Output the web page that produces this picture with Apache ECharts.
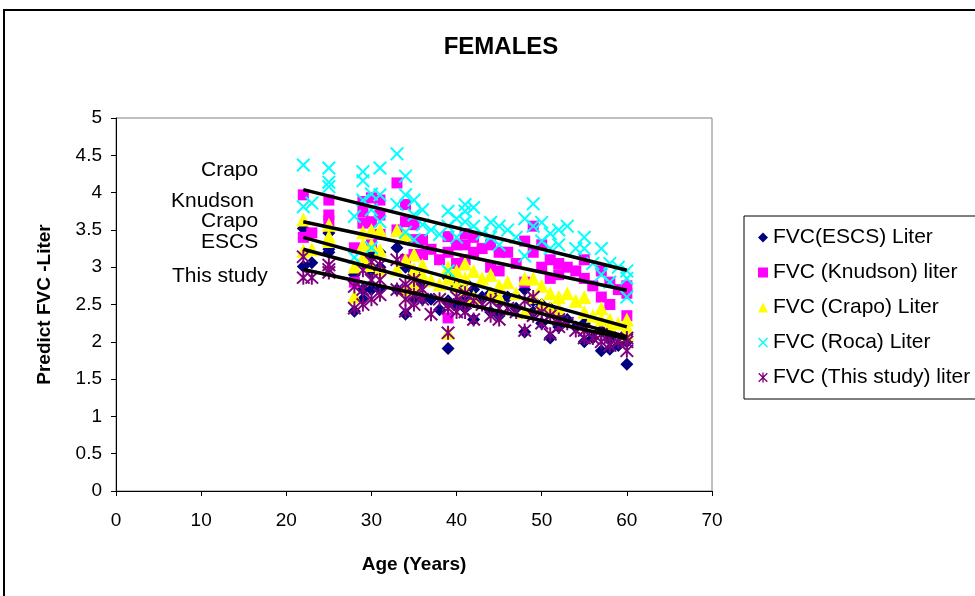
<!DOCTYPE html>
<html>
<head>
<meta charset="utf-8">
<script src="https://cdn.jsdelivr.net/npm/echarts@6/dist/echarts.min.js"></script>
<style>
html,body{margin:0;padding:0;background:#fff;}
#chart{width:975px;height:596px;}
</style>
</head>
<body>
<div id="chart"></div>
<script>
// ---- Data ----
const ages      = [22,22,23,25,25,25,28,28,29,29,29,30,30,30,31,31,31,33,33,34,34,34,35,35,35,36,36,37,38,39,39,39,40,40,41,41,41,42,42,43,44,44,45,45,46,47,48,48,49,49,50,50,51,51,52,52,53,54,55,55,56,57,57,58,58,59,60,60,60];
const escs      = [3.52,3.01,3.06,3.46,3.24,3.20,2.90,2.41,3.07,2.70,2.57,3.17,2.90,2.70,3.20,3.00,2.70,3.26,2.70,3.00,2.70,2.37,2.94,2.70,2.57,2.77,2.57,2.57,2.43,2.86,1.91,2.55,2.75,2.50,2.80,2.62,2.45,2.70,2.30,2.60,2.65,2.40,2.55,2.35,2.60,2.45,2.70,2.13,2.55,2.40,2.50,2.25,2.05,2.45,2.35,2.20,2.30,2.20,2.00,2.25,2.05,1.88,2.15,1.90,2.05,1.95,1.70,2.00,2.10];
const knudson   = [3.97,3.40,3.46,3.90,3.70,3.62,3.26,2.80,3.88,3.74,3.59,3.93,3.61,3.30,3.90,3.70,3.44,4.13,3.50,3.84,3.61,3.10,3.57,3.37,3.17,3.37,3.17,3.24,3.10,3.41,2.32,3.20,3.30,3.05,3.45,3.30,3.10,3.40,3.20,3.25,3.30,3.00,3.20,2.95,3.20,3.05,3.35,2.80,3.55,3.20,3.30,3.00,2.85,3.10,3.05,2.90,3.00,2.95,3.10,2.85,2.75,2.60,2.95,2.50,2.80,2.70,2.35,2.65,2.75];
const crapo     = [3.64,3.22,3.24,3.57,3.41,3.35,3.01,2.61,3.47,3.30,3.13,3.50,3.30,3.03,3.50,3.23,2.97,3.50,2.97,3.44,3.10,2.70,3.17,2.97,2.77,3.03,2.90,2.83,2.77,3.00,2.12,2.85,2.95,2.75,3.05,2.85,2.70,2.95,2.60,2.85,2.90,2.65,2.75,2.60,2.80,2.65,2.85,2.40,2.85,2.60,2.75,2.50,2.45,2.65,2.60,2.45,2.65,2.55,2.60,2.40,2.35,2.30,2.45,2.20,2.30,2.25,2.10,2.20,2.30];
const roca      = [4.37,3.81,3.86,4.33,4.14,4.08,3.68,3.13,4.28,4.16,3.90,3.98,3.77,3.26,4.33,3.97,3.61,4.52,3.84,4.22,3.97,3.47,3.90,3.70,3.37,3.77,3.57,3.50,3.44,3.75,2.95,3.55,3.65,3.40,3.84,3.75,3.61,3.80,3.55,3.45,3.60,3.40,3.55,3.30,3.50,3.40,3.65,3.15,3.85,3.55,3.60,3.35,3.25,3.45,3.50,3.30,3.55,3.25,3.40,3.25,3.05,3.25,2.90,3.05,2.80,3.00,2.95,2.60,2.85];
const thisStudy = [3.14,2.86,2.86,3.03,2.93,2.97,2.74,2.45,2.96,2.70,2.50,3.07,2.83,2.57,3.03,2.83,2.63,3.10,2.70,2.77,2.57,2.41,2.83,2.63,2.50,2.70,2.57,2.37,2.57,2.50,2.12,2.45,2.60,2.40,2.65,2.52,2.40,2.55,2.30,2.50,2.55,2.35,2.45,2.30,2.45,2.40,2.55,2.15,2.60,2.35,2.40,2.25,2.10,2.35,2.30,2.20,2.25,2.15,2.15,2.05,2.05,2.00,2.10,1.95,2.05,2.00,1.88,2.00,2.05];

// trend lines: [start age, end age] and values at each end
const trendAges  = [22, 60];
const trendRoca  = [4.04, 2.96];
const trendKnud  = [3.61, 2.69];
const trendCrapo = [3.40, 2.20];
const trendEscs  = [3.24, 2.07];
const trendThis  = [2.97, 2.04];

const seriesNames = ['FVC(ESCS) Liter','FVC (Knudson) liter','FVC (Crapo) Liter','FVC (Roca) Liter','FVC (This study) liter'];
const annotations = ['Crapo','Knudson','Crapo','ESCS','This study'];
const xTicks = [0,10,20,30,40,50,60,70];

// ---- Chart ----
const FONT = 'Liberation Sans, Arial, sans-serif';
const pair = (xs, ys) => xs.map((x, i) => [x, ys[i]]);
const X_PATH = 'path://M0,1 L1,0 L5,4 L9,0 L10,1 L6,5 L10,9 L9,10 L5,6 L1,10 L0,9 L4,5 Z';
const AST_PATH = 'path://M0,1.2 L1,0.2 L5,4.2 L9,0.2 L10,1.2 L6,5.2 L10,9.2 L9,10.2 L5,6.2 L1,10.2 L0,9.2 L4,5.2 Z M4.3,0 L5.7,0 L5.7,10.4 L4.3,10.4 Z';

const chart = echarts.init(document.getElementById('chart'), null, {renderer:'canvas'});

const scatter = (name, vals, symbol, size, color) => ({
  name, type:'scatter', data: pair(ages, vals), symbol, symbolSize: size,
  itemStyle:{color, opacity:1}, z:2, animation:false
});
const trend = (vals) => ({
  type:'line', data: pair(trendAges, vals), symbol:'none', silent:true,
  lineStyle:{color:'#000', width:3.5}, z:5, animation:false, legendHoverLink:false
});

const annoPos = [[201,160],[171,191],[201,211],[201,232],[172,266]];

chart.setOption({
  animation:false,
  backgroundColor:'#fff',
  textStyle:{fontFamily:FONT},
  grid:{left:116, right:263, top:118, bottom:105, show:true, borderColor:'#808080', borderWidth:1},
  xAxis:{
    type:'value', min:0, max:70, interval:10,
    axisLine:{lineStyle:{color:'#000', width:1}},
    axisTick:{show:true, length:5, lineStyle:{color:'#000'}},
    axisLabel:{color:'#000', fontSize:19, margin:20, fontFamily:FONT},
    splitLine:{show:false},
    name:'Age (Years)', nameLocation:'middle', nameGap:64,
    nameTextStyle:{color:'#000', fontSize:19, fontWeight:'bold', fontFamily:FONT}
  },
  yAxis:{
    type:'value', min:0, max:5, interval:0.5,
    axisLine:{show:true, lineStyle:{color:'#000', width:1}},
    axisTick:{show:true, length:5, lineStyle:{color:'#000'}},
    axisLabel:{color:'#000', fontSize:19, margin:14, fontFamily:FONT},
    splitLine:{show:false},
    name:'Predict FVC -Liter', nameLocation:'middle', nameGap:62,
    nameTextStyle:{color:'#000', fontSize:19, fontWeight:'bold', fontFamily:FONT}
  },
  legend:{
    data: seriesNames,
    orient:'vertical', left:744, top:216,
    padding:[11,40,11,14], itemGap:14,
    itemWidth:10, itemHeight:10,
    borderColor:'#000', borderWidth:1, backgroundColor:'#fff',
    textStyle:{color:'#000', fontSize:21, fontFamily:FONT}
  },
  graphic:[
    {type:'rect', shape:{x:4, y:10, width:1200, height:1200}, style:{fill:null, stroke:'#000', lineWidth:2}, silent:true, z:-10},
    {type:'text', x:501, y:47, style:{text:'FEMALES', font:'bold 24px '+FONT, fill:'#000', textAlign:'center', textVerticalAlign:'middle'}, silent:true}
  ].concat(annotations.map((t, i) => ({
    type:'text', x:annoPos[i][0], y:annoPos[i][1],
    style:{text:t, font:'21px '+FONT, fill:'#000'}, silent:true
  }))),
  series:[
    scatter(seriesNames[0], escs, 'diamond', 13, '#000080'),
    scatter(seriesNames[1], knudson, 'rect', 11, '#FF00FF'),
    scatter(seriesNames[2], crapo, 'triangle', 14, '#FFFF00'),
    scatter(seriesNames[3], roca, X_PATH, 14, '#00FFFF'),
    scatter(seriesNames[4], thisStudy, AST_PATH, 14, '#800080'),
    trend(trendRoca), trend(trendKnud), trend(trendCrapo), trend(trendEscs), trend(trendThis)
  ]
});
</script>
</body>
</html>
